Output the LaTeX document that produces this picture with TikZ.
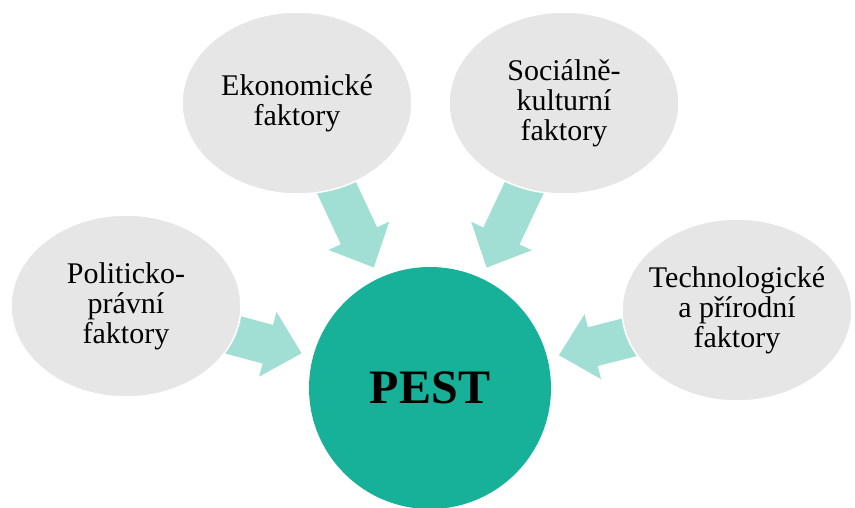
\documentclass[tikz,border=0pt]{standalone}
\usepackage{fontspec}
\setmainfont{Liberation Serif}
\usetikzlibrary{shapes.geometric,calc}
\definecolor{pestteal}{HTML}{17B099}
\definecolor{arrowteal}{HTML}{A1DFD4}
\definecolor{factorgray}{HTML}{E6E6E6}
\pgfdeclarelayer{bg}
\pgfsetlayers{bg,main}
% block arrow from factor #1 towards the centre #2
\newcommand{\pestarrow}[2]{%
  \coordinate (T) at ($(#2)!133pt!(#1)$);
  \coordinate (B) at ($(T)!35pt!(#1)$);
  \fill[arrowteal]
    ($(#1)!20pt!90:(T)$) -- ($(B)!20pt!90:(T)$) -- ($(B)!33.5pt!90:(T)$) --
    (T) --
    ($(B)!33.5pt!-90:(T)$) -- ($(B)!20pt!-90:(T)$) -- ($(#1)!20pt!-90:(T)$) -- cycle;
}
\begin{document}
\begin{tikzpicture}[x=1pt,y=-1pt,
  factor/.style={ellipse, fill=factorgray, draw=white, line width=1.5pt,
    minimum width=230pt, minimum height=182pt, inner xsep=-25pt, inner ysep=0pt,
    align=center, font=\fontsize{30}{30}\selectfont},
  core/.style={circle, fill=pestteal, minimum size=242pt, inner sep=0pt,
    font=\fontsize{48}{50}\selectfont\bfseries}]
\useasboundingbox (0,0) rectangle (855,507);
\node[core] (pest) at (430,388) {PEST};
\node[factor] (eko) at (297,103) {Ekonomické\\faktory};
\node[factor] (soc) at (564,103) {Sociálně-\\kulturní\\faktory};
\node[factor] (pol) at (126,306) {Politicko-\\právní\\faktory};
\node[factor] (tech) at (737,310) {Technologické\\a přírodní\\faktory};
\begin{pgfonlayer}{bg}
  \pestarrow{eko}{pest}
  \pestarrow{soc}{pest}
  \pestarrow{pol}{pest}
  \pestarrow{tech}{pest}
\end{pgfonlayer}
\end{tikzpicture}
\end{document}
